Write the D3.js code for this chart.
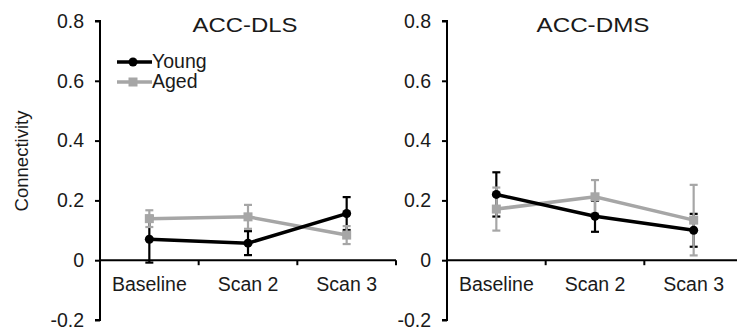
<!DOCTYPE html>
<html>
<head>
<meta charset="utf-8">
<script src="https://cdn.jsdelivr.net/npm/d3@7"></script>
<style>
  body { margin: 0; background: #fff; }
  svg text { font-family: "Liberation Sans", Arial, sans-serif; fill: #1a1a1a; }
</style>
</head>
<body>
<div id="container"></div>
<script>
const scans = ["Baseline", "Scan 2", "Scan 3"];
const yTicks = [-0.2, 0, 0.2, 0.4, 0.6, 0.8];

// ACC-DLS
const dlsYoung = [0.070, 0.057, 0.156];
const dlsYoungErr = [0.078, 0.040, 0.055];
const dlsAged = [0.139, 0.145, 0.084];
const dlsAgedErr = [0.028, 0.040, 0.030];

// ACC-DMS
const dmsYoung = [0.220, 0.147, 0.100];
const dmsYoungErr = [0.074, 0.052, 0.055];
const dmsAged = [0.171, 0.212, 0.134];
const dmsAgedErr = [0.072, 0.056, 0.118];

const width = 737;
const height = 329;
const grey = "#a6a6a6";

const svg = d3.select("#container")
  .append("svg")
  .attr("width", width)
  .attr("height", height);

const panels = [
  { title: "ACC-DLS", left: 100, titleX: 245, titleW: 105,
    young: dlsYoung, youngErr: dlsYoungErr, aged: dlsAged, agedErr: dlsAgedErr, legend: true },
  { title: "ACC-DMS", left: 447, titleX: 593, titleW: 113,
    young: dmsYoung, youngErr: dmsYoungErr, aged: dmsAged, agedErr: dmsAgedErr, legend: false }
];

const yScale = d3.scaleLinear().domain([-0.2, 0.8]).range([320, 21]);

function drawSeries(g, x, vals, errs, color, kind, part) {
  const pts = scans.map((s, i) => ({ cx: x(s) + x.bandwidth() / 2, v: vals[i], e: errs[i] }));
  if (part === "err") {
    const eg = g.append("g").attr("stroke", color).attr("stroke-width", 2.2);
    pts.forEach(p => {
      eg.append("line").attr("x1", p.cx).attr("x2", p.cx)
        .attr("y1", yScale(p.v - p.e)).attr("y2", yScale(p.v + p.e));
      [p.v - p.e, p.v + p.e].forEach(ev => {
        eg.append("line").attr("x1", p.cx - 4).attr("x2", p.cx + 4)
          .attr("y1", yScale(ev)).attr("y2", yScale(ev));
      });
    });
    return;
  }
  const line = d3.line().x(d => d.cx).y(d => yScale(d.v));
  g.append("path").datum(pts)
    .attr("d", line)
    .attr("fill", "none")
    .attr("stroke", color)
    .attr("stroke-width", 3.5);
  if (kind === "circle") {
    g.selectAll(null).data(pts).enter().append("circle")
      .attr("cx", d => d.cx).attr("cy", d => yScale(d.v))
      .attr("r", 4.5).attr("fill", color);
  } else {
    g.selectAll(null).data(pts).enter().append("rect")
      .attr("x", d => d.cx - 4.5).attr("y", d => yScale(d.v) - 4.5)
      .attr("width", 9).attr("height", 9).attr("fill", color);
  }
}

panels.forEach(p => {
  const g = svg.append("g");
  const x = d3.scaleBand().domain(scans).range([p.left, p.left + 296]).padding(0);

  // y axis
  const yAxis = d3.axisLeft(yScale)
    .tickValues(yTicks)
    .tickSize(5)
    .tickPadding(11)
    .tickFormat(d => d === 0 ? "0" : d.toFixed(1));
  const ya = g.append("g")
    .attr("transform", `translate(${p.left},0)`)
    .call(yAxis);
  ya.select(".domain").attr("stroke", "#000").attr("stroke-width", 2)
    .attr("d", `M-5,${yScale(-0.2)}H0V${yScale(0.8)}H-5`);
  ya.selectAll(".tick line").attr("stroke", "#000").attr("stroke-width", 2);
  ya.selectAll(".tick text").style("font-size", "19.5px").attr("fill", "#1a1a1a");

  // x axis: labels at band centres, ticks at band edges
  const y0 = yScale(0);
  const xa = g.append("g")
    .attr("transform", `translate(0,${y0})`)
    .call(d3.axisBottom(x).tickSize(0).tickPadding(17));
  xa.select(".domain").remove();
  xa.selectAll(".tick text").style("font-size", "19.5px").attr("fill", "#1a1a1a");
  xa.append("line")
    .attr("x1", p.left).attr("x2", x.range()[1])
    .attr("stroke", "#000").attr("stroke-width", 2);
  xa.selectAll(".edge").data(scans).enter().append("line")
    .attr("class", "edge")
    .attr("x1", d => x(d) + x.bandwidth()).attr("x2", d => x(d) + x.bandwidth())
    .attr("y1", 0).attr("y2", 5)
    .attr("stroke", "#000").attr("stroke-width", 2);

  // title
  g.append("text")
    .attr("x", p.titleX).attr("y", 32)
    .attr("text-anchor", "middle")
    .attr("textLength", p.titleW)
    .attr("lengthAdjust", "spacingAndGlyphs")
    .style("font-size", "19.5px")
    .text(p.title);

  drawSeries(g, x, p.young, p.youngErr, "#000", "circle", "err");
  drawSeries(g, x, p.aged, p.agedErr, grey, "rect", "err");
  drawSeries(g, x, p.aged, p.agedErr, grey, "rect", "line");
  drawSeries(g, x, p.young, p.youngErr, "#000", "circle", "line");

  if (p.legend) {
    const legendItems = [
      { name: "Young", color: "#000", kind: "circle", y: 62 },
      { name: "Aged", color: grey, kind: "rect", y: 82 }
    ];
    const lg = g.selectAll(".legend").data(legendItems).enter().append("g");
    lg.append("line")
      .attr("x1", 117).attr("x2", 152)
      .attr("y1", d => d.y).attr("y2", d => d.y)
      .attr("stroke", d => d.color).attr("stroke-width", 3.5);
    lg.filter(d => d.kind === "circle").append("circle")
      .attr("cx", 133).attr("cy", d => d.y).attr("r", 4.5).attr("fill", d => d.color);
    lg.filter(d => d.kind === "rect").append("rect")
      .attr("x", 128.5).attr("y", d => d.y - 4.5)
      .attr("width", 9).attr("height", 9).attr("fill", d => d.color);
    lg.append("text")
      .attr("x", 152).attr("y", d => d.y + 6)
      .style("font-size", "19.5px")
      .text(d => d.name);
  }
});

// y axis label
svg.append("text")
  .attr("transform", "translate(28,161) rotate(-90)")
  .attr("text-anchor", "middle")
  .style("font-size", "18.5px")
  .text("Connectivity");
</script>
</body>
</html>
